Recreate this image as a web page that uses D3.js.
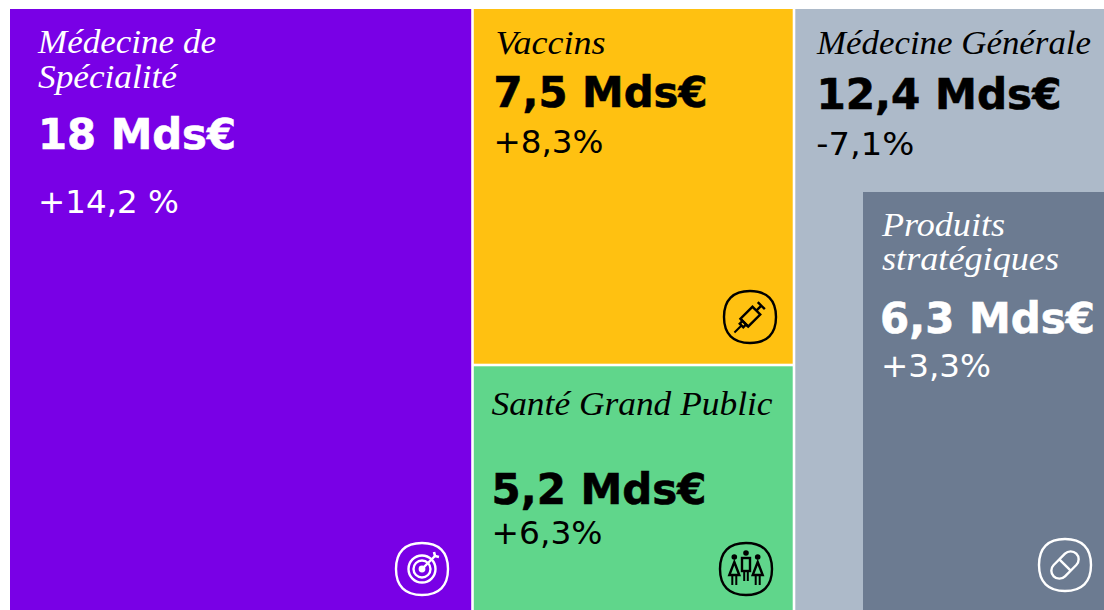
<!DOCTYPE html>
<html><head><meta charset="utf-8">
<script src="https://cdn.jsdelivr.net/npm/d3@7"></script>
<style>html,body{margin:0;padding:0;background:#fff}svg{display:block}
.t{font-family:"Liberation Serif",serif;font-style:italic}
.v{font-family:"DejaVu Sans",sans-serif;font-weight:700}
.g{font-family:"DejaVu Sans",sans-serif}</style>
</head><body><svg id="c" width="1104" height="610"></svg>
<script>
const categories=["Médecine de Spécialité","Vaccins","Santé Grand Public","Médecine Générale","Produits stratégiques"];
const values=[18,7.5,5.2,12.4,6.3];
const valueLabels=["18 Mds€","7,5 Mds€","5,2 Mds€","12,4 Mds€","6,3 Mds€"];
const growthLabels=["+14,2 %","+8,3%","+6,3%","-7,1%","+3,3%"];
const titleLines=[["Médecine de","Spécialité"],["Vaccins"],["Santé Grand Public"],["Médecine Générale"],["Produits","stratégiques"]];
const colors=["#7900E6","#FFC111","#60D68B","#ADBAC9","#6C7B91"];
const inks=["#fff","#000","#000","#000","#fff"];

// cumulative scales: the columns run on the totals, the middle column stacks
const col1=values[0],col2=values[1]+values[2],col3=values[3];
const x=d3.scaleLinear().domain([0,col1,col1+col2,col1+col2+col3]).range([10,472.5,794,1105]);
const yMid=d3.scaleLinear().domain([0,values[1],col2]).range([9,365,610]);
const yFull=d3.scaleLinear().domain([0,1]).range([9,610]);
const insetX=d3.scaleLinear().domain([0,values[4]]).range([1104,863]);
const insetY=d3.scaleLinear().domain([0,values[4]]).range([610,192]);

const gap=1.3;
const cells=[
 {i:0,x0:x(0),x1:x(col1)-gap,y0:yFull(0),y1:yFull(1)},
 {i:1,x0:x(col1)+gap,x1:x(col1+col2)-gap,y0:yMid(0),y1:yMid(values[1])-gap},
 {i:2,x0:x(col1)+gap,x1:x(col1+col2)-gap,y0:yMid(values[1])+gap,y1:yMid(col2)},
 {i:3,x0:x(col1+col2)+gap,x1:x(col1+col2+col3),y0:yFull(0),y1:yFull(1)},
 {i:4,x0:insetX(values[4]),x1:insetX(0),y0:insetY(values[4]),y1:insetY(0)}
];
const svg=d3.select("#c");
svg.selectAll("rect.cell").data(cells).join("rect").attr("class","cell")
 .attr("x",d=>d.x0).attr("y",d=>d.y0).attr("width",d=>d.x1-d.x0).attr("height",d=>d.y1-d.y0)
 .attr("fill",d=>colors[d.i]);

// text placement: baselines from the cell's top, left edges from the cell's left
const place=[
 {dx:28,title:[44,79],titleW:[178,139],val:140,valW:198,gr:203.5,grW:141},
 {dx:21.7,title:[45],titleW:[110],val:98,valW:214,gr:143.5,grW:110,vdx:19.7,gdx:19.7},
 {dx:17.7,title:[49],titleW:[281],val:138,valW:215,gr:177.5,grW:111},
 {dx:21.7,title:[45],titleW:[274],val:100,valW:245,gr:145.5,grW:98,vdx:21.2,gdx:21},
 {dx:19,title:[44,78],titleW:[123,177],val:141,valW:215,gr:184.5,grW:110,vdx:17,gdx:18}
];
const sizeTitle=34,sizeVal=42,sizeGr=32;
cells.forEach(c=>{
 const p=place[c.i],g=svg.append("g").attr("fill",inks[c.i]);
 titleLines[c.i].forEach((ln,k)=>g.append("text").attr("class","t").attr("x",c.x0+p.dx).attr("y",c.y0+p.title[k])
   .attr("font-size",sizeTitle).attr("textLength",p.titleW[k]).attr("lengthAdjust","spacingAndGlyphs").text(ln));
 g.append("text").attr("class","v").attr("x",c.x0+(p.vdx??p.dx)).attr("y",c.y0+p.val)
   .attr("font-size",sizeVal).attr("textLength",p.valW).attr("lengthAdjust","spacingAndGlyphs")
   .attr("stroke",inks[c.i]).attr("stroke-width",0.6).text(valueLabels[c.i]);
 g.append("text").attr("class","g").attr("x",c.x0+(p.gdx??p.dx)).attr("y",c.y0+p.gr)
   .attr("font-size",sizeGr).attr("textLength",p.grW).attr("lengthAdjust","spacingAndGlyphs").text(growthLabels[c.i]);
});

// icons
function badge(cx,cy,ink){
 const g=svg.append("g").attr("transform",`translate(${cx},${cy})`).attr("fill","none").attr("stroke",ink).attr("stroke-width",2.4);
 const r=26,k=17;
 g.append("path").attr("d",`M0,${-r}C${k},${-r} ${r},${-k} ${r},0C${r},${k} ${k},${r} 0,${r}C${-k},${r} ${-r},${k} ${-r},0C${-r},${-k} ${-k},${-r} 0,${-r}Z`);
 return g;
}
let g=badge(422,569,"#fff");
g.append("circle").attr("r",13.5);
g.append("circle").attr("r",8.5);
g.append("circle").attr("r",3.4).attr("fill","#fff").attr("stroke","none");
g.append("path").attr("d","M0,0L13,-13");
g.append("path").attr("d","M12,-17L13,-13L17,-12").attr("stroke-width",2.6);

g=badge(750,317,"#000");
g.append("g").attr("transform","rotate(45)").call(s=>{
 s.append("rect").attr("x",-5.5).attr("y",-9).attr("width",11).attr("height",17);
 s.append("path").attr("d","M-5,-16H5M0,-16V-9M-5.5,8H5.5M-2.5,8V12H2.5V8");
 s.append("path").attr("d","M0,12V22").attr("stroke-width",2);
});

g=badge(746,569,"#000");
[-11.7,11.7].forEach(dx=>{
 const h=g.append("g").attr("transform",`translate(${dx},0)`);
 h.append("circle").attr("cy",-12).attr("r",2.8).attr("fill","#000").attr("stroke","none");
 h.append("path").attr("d","M0,-7L5,6H-5Z");
 h.append("path").attr("d","M-2,6V16M2,6V16").attr("stroke-width",2);
});
g.append("circle").attr("cy",-16).attr("r",2.8).attr("fill","#000").attr("stroke","none");
g.append("rect").attr("x",-4).attr("y",-11).attr("width",8).attr("height",13);
g.append("path").attr("d","M-1.8,2V12M1.8,2V12").attr("stroke-width",2);

g=badge(1065,565,"#fff");
g.append("g").attr("transform","rotate(45)").call(s=>{
 s.append("rect").attr("x",-8).attr("y",-16).attr("width",16).attr("height",32).attr("rx",8);
 s.append("path").attr("d","M-8,0H8");
});
</script></body></html>
